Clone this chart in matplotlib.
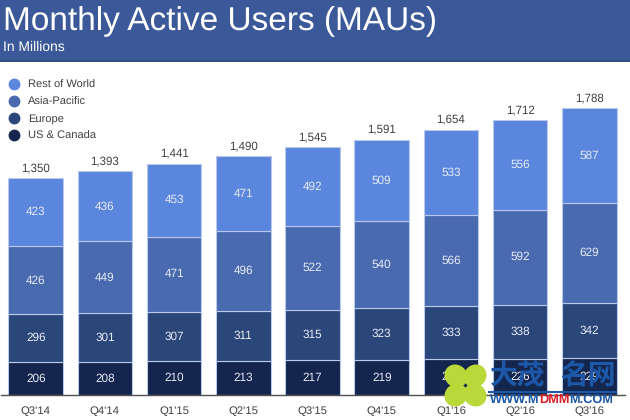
"""Monthly Active Users, barras empilhadas por regiao."""

import matplotlib

matplotlib.use("Agg")
import matplotlib.pyplot as plt
from matplotlib.lines import Line2D
from matplotlib.patches import Ellipse, Rectangle

plt.rcParams["font.family"] = ["Liberation Sans", "Noto Sans CJK SC", "DejaVu Sans"]
plt.rcParams["text.hinting"] = "no_hinting"

quarters = ["Q3'14", "Q4'14", "Q1'15", "Q2'15", "Q3'15", "Q4'15", "Q1'16", "Q2'16", "Q3'16"]
us_canada = [206, 208, 210, 213, 217, 219, 222, 226, 229]
europe = [296, 301, 307, 311, 315, 323, 333, 338, 342]
asia_pacific = [426, 449, 471, 496, 522, 540, 566, 592, 629]
rest_of_world = [423, 436, 453, 471, 492, 509, 533, 556, 587]
totals = [1350, 1393, 1441, 1490, 1545, 1591, 1654, 1712, 1788]

series = [
    ("US & Canada", us_canada, "#14264d"),
    ("Europe", europe, "#2b4679"),
    ("Asia-Pacific", asia_pacific, "#4a6ab0"),
    ("Rest of World", rest_of_world, "#5b86dd"),
]

W, H = 630, 420
fig = plt.figure(figsize=(W / 100, H / 100), dpi=100, facecolor="white")

# Cabecalho
fig.patches.append(Rectangle((0, 1 - 60 / H), 1, 60 / H, transform=fig.transFigure, color="#3b5998", lw=0))
fig.patches.append(Rectangle((0, 1 - 62 / H), 1, 2 / H, transform=fig.transFigure, color="#2f4d85", lw=0))
fig.text(3 / W, 1 - 30 / H, "Monthly Active Users (MAUs)", color="white", fontsize=24, va="baseline", ha="left")
fig.text(3 / W, 1 - 47.5 / H, "In Millions", color="white", fontsize=10, va="center", ha="left")

# Barras
ax = fig.add_axes([1 / W, 1 - 395 / H, 624 / W, 333 / H])
x = list(range(len(quarters)))
bottom = [0] * len(x)
for name, vals, cor in series:
    ax.bar(x, vals, 0.79, bottom=bottom, color=cor, edgecolor="#b9c9ea", linewidth=0.8, label=name)
    for xi, b, v in zip(x, bottom, vals):
        ax.text(xi, b + v / 2, str(v), color="#e6ebf5", fontsize=8.5, ha="center", va="center")
    bottom = [b + v for b, v in zip(bottom, vals)]

for xi, t in zip(x, totals):
    ax.text(xi, t + 28, f"{t:,}", color="#404040", fontsize=8.3, ha="center", va="bottom")

ax.set_xlim(-0.502, 8.515)
ax.set_ylim(0, 2076)
ax.set_xticks(x)
ax.set_xticklabels(quarters, fontsize=8.2, color="#404040")
ax.set_yticks([])
ax.tick_params(axis="x", length=0, pad=8)
for lado in ["top", "right", "left"]:
    ax.spines[lado].set_visible(False)
ax.spines["bottom"].set_color("#505050")
ax.spines["bottom"].set_linewidth(1)
ax.patch.set_alpha(0)

# Legenda
handles = [
    Line2D([], [], ls="", marker="o", ms=7.5, mfc=cor, mec=cor, label=name)
    for name, _, cor in reversed(series)
]
fig.legend(
    handles=handles,
    loc="upper left",
    bbox_to_anchor=(3 / W, 1 - 78 / H),
    frameon=False,
    fontsize=8,
    labelcolor="#404040",
    labelspacing=0.6,
    handletextpad=0.45,
    handlelength=1.6,
    borderpad=0.2,
    borderaxespad=0,
)

# Marca d'agua, em coordenadas de pixel
over = fig.add_axes([0, 0, 1, 1], zorder=5)
over.set_xlim(0, W)
over.set_ylim(H, 0)
over.axis("off")
for dx, dy, ang in [(-9, -9, 45), (10, -9, -45), (-9, 10, -45), (10, 10, 45)]:
    over.add_patch(Ellipse((465 + dx, 385 + dy), 24, 22, angle=ang, color="#b9d83a", lw=0))
over.text(490, 377, "大茂", color="#1c57a8", fontsize=20, fontweight="bold", va="center")
over.text(560, 377, "名网", color="#1c57a8", fontsize=20, fontweight="bold", va="center")
over.plot([489, 616], [392, 392], color="#1c57a8", lw=1.5)
over.text(490, 399.5, "WWW.M", color="#1c57a8", fontsize=9.2, fontweight="bold", va="center")
over.text(539, 399.5, "DMM", color="#d8202a", fontsize=9.2, fontweight="bold", va="center")
over.text(569, 399.5, "M.COM", color="#1c57a8", fontsize=9.2, fontweight="bold", va="center")

fig.savefig("out.png", dpi=100)
